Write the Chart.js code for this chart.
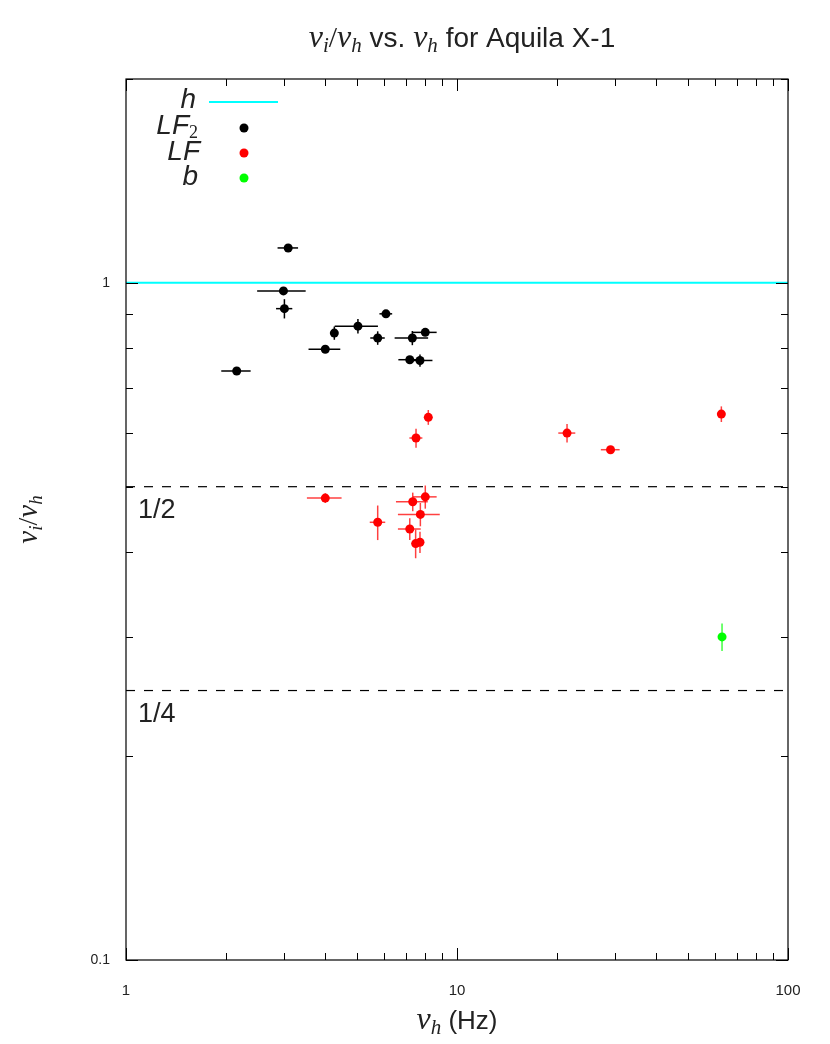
<html>
<head>
  <meta charset="utf-8">
  <script type="text/javascript" src="https://cdn.jsdelivr.net/npm/chart.js@4.4.0/dist/chart.umd.min.js"></script>
  <style>
    body { margin: 0; background: #fff; }
    #wrap { width: 830px; height: 1044px; position: relative; }
  </style>
</head>
<body>
  <div id="wrap"><canvas id="ctx"></canvas></div>

  <script type="text/javascript">

    // LF2 (black) points
    lf2Nu     = [3.09, 2.99, 3.01, 2.16, 4.00, 4.26, 5.02, 6.10, 5.76, 7.33, 8.02, 7.20, 7.73];
    lf2Ratio  = [1.126, 0.973, 0.916, 0.741, 0.798, 0.843, 0.863, 0.900, 0.829, 0.829, 0.845, 0.770, 0.768];
    lf2NuErr  = [0.22, 0.50, 0.17, 0.22, 0.44, 0.00, 0.75, 0.27, 0.29, 0.85, 0.66, 0.55, 0.70];
    lf2RatErr = [0.000, 0.000, 0.030, 0.000, 0.000, 0.019, 0.021, 0.000, 0.019, 0.020, 0.000, 0.000, 0.016];

    // LF (red) points
    lfNu      = [8.19, 7.52, 4.00, 5.76, 7.35, 8.02, 7.75, 7.20, 7.50, 7.73, 21.5, 29.1, 62.9];
    lfRatio   = [0.633, 0.590, 0.481, 0.443, 0.475, 0.483, 0.455, 0.433, 0.412, 0.414, 0.600, 0.567, 0.640];
    lfNuErr   = [0.00, 0.34, 0.48, 0.31, 0.81, 0.66, 1.12, 0.57, 0.00, 0.00, 1.27, 1.90, 0.00];
    lfRatErr  = [0.016, 0.019, 0.008, 0.026, 0.015, 0.019, 0.018, 0.016, 0.020, 0.015, 0.019, 0.000, 0.017];

    // b (green) point
    bNu       = [63.2];
    bRatio    = [0.300];
    bNuErr    = [0.0];
    bRatErr   = [0.014];

    // reference lines
    refRatios = [1, 0.5, 0.25];
    refLabels = ["", "1/2", "1/4"];
    xRange    = [1, 100];
    yRange    = [0.1, 2];

    function pts(xs, ys) {
      return xs.map((x, i) => ({x: x, y: ys[i]}));
    }
    function hline(v) {
      return [{x: xRange[0], y: v}, {x: xRange[1], y: v}];
    }

    MI  = 'italic 29px "Liberation Serif"';
    MIs = 'italic 19px "Liberation Serif"';
    RM  = '28px "Liberation Serif"';
    SF  = '25px "Liberation Sans"';

    function rich(c, parts, x, y, align) {
      var w = 0;
      parts.forEach(p => { c.font = p.f; p.w = c.measureText(p.t).width + (p.gap || 0); w += p.w; });
      var cx = align == 'center' ? x - w / 2 : (align == 'right' ? x - w : x);
      c.textAlign = 'left';
      c.textBaseline = 'alphabetic';
      parts.forEach(p => { c.font = p.f; c.fillText(p.t, cx, y + (p.dy || 0)); cx += p.w; });
    }

    function isDecade(v) {
      var l = Math.log10(v);
      return Math.abs(l - Math.round(l)) < 1e-6;
    }
    // only the 1..9 x 10^n positions get a tick
    function isWholeStep(v) {
      var m = v / Math.pow(10, Math.floor(Math.log10(v) + 1e-9));
      return Math.abs(m - Math.round(m)) < 1e-6;
    }

    // error bars, drawn under the points
    errPlugin = {
      id: 'errbars',
      beforeDatasetsDraw: function(chart) {
        var c = chart.ctx, xs = chart.scales.x, ys = chart.scales.y;
        c.save();
        c.lineWidth = 1.5;
        chart.data.datasets.forEach(ds => {
          if (!ds.xErr) return;
          c.strokeStyle = ds.errColor;
          ds.data.forEach((p, i) => {
            var px = xs.getPixelForValue(p.x), py = ys.getPixelForValue(p.y);
            if (ds.xErr[i] > 0) {
              c.beginPath();
              c.moveTo(xs.getPixelForValue(p.x - ds.xErr[i]), py);
              c.lineTo(xs.getPixelForValue(p.x + ds.xErr[i]), py);
              c.stroke();
            }
            if (ds.yErr[i] > 0) {
              c.beginPath();
              c.moveTo(px, ys.getPixelForValue(p.y - ds.yErr[i]));
              c.lineTo(px, ys.getPixelForValue(p.y + ds.yErr[i]));
              c.stroke();
            }
          });
        });
        c.restore();
      }
    };

    // frame, inward ticks, titles, legend, 1/2 1/4 labels
    deco = {
      id: 'deco',
      afterDraw: function(chart) {
        var c = chart.ctx, a = chart.chartArea, xs = chart.scales.x, ys = chart.scales.y;
        c.save();
        c.strokeStyle = '#000';
        c.lineWidth = 1.2;
        c.strokeRect(a.left, a.top, a.right - a.left, a.bottom - a.top);

        c.lineWidth = 1;
        c.beginPath();
        xs.ticks.forEach(t => {
          if (!isWholeStep(t.value)) return;
          var px = Math.round(xs.getPixelForValue(t.value)) + 0.5;
          var len = isDecade(t.value) ? 12 : 7;
          c.moveTo(px, a.bottom); c.lineTo(px, a.bottom - len);
          c.moveTo(px, a.top); c.lineTo(px, a.top + len);
        });
        ys.ticks.forEach(t => {
          if (!isWholeStep(t.value)) return;
          var py = Math.round(ys.getPixelForValue(t.value)) + 0.5;
          var len = isDecade(t.value) ? 12 : 7;
          c.moveTo(a.left, py); c.lineTo(a.left + len, py);
          c.moveTo(a.right, py); c.lineTo(a.right - len, py);
        });
        c.stroke();

        c.fillStyle = '#222';
        // title
        var TF = '28px "Liberation Sans"', TM = 'italic 32px "Liberation Serif"', TS = 'italic 21px "Liberation Serif"';
        rich(c, [
          {t: 'ν', f: TM}, {t: 'i', f: TS, dy: 5}, {t: '/', f: '30px "Liberation Serif"'}, {t: 'ν', f: TM}, {t: 'h', f: TS, dy: 5},
          {t: ' vs. ', f: TF}, {t: 'ν', f: TM}, {t: 'h', f: TS, dy: 5}, {t: ' for Aquila X-1', f: TF}
        ], (a.left + a.right) / 2 + 5, 47, 'center');

        // x label
        rich(c, [
          {t: 'ν', f: 'italic 32px "Liberation Serif"'}, {t: 'h', f: 'italic 21px "Liberation Serif"', dy: 5},
          {t: ' (Hz)', f: '26px "Liberation Sans"'}
        ], (a.left + a.right) / 2, 1029, 'center');

        // y label
        c.save();
        c.translate(37, (a.top + a.bottom) / 2);
        c.rotate(-Math.PI / 2);
        rich(c, [
          {t: 'ν', f: MI}, {t: 'i', f: MIs, dy: 5}, {t: '/', f: RM}, {t: 'ν', f: MI}, {t: 'h', f: MIs, dy: 5}
        ], 0, 0, 'center');
        c.restore();

        // 1/2 and 1/4
        c.font = '27px "Liberation Sans"';
        c.textAlign = 'left';
        c.textBaseline = 'alphabetic';
        refRatios.forEach((r, i) => {
          if (!refLabels[i]) return;
          c.fillText(refLabels[i], a.left + 12, ys.getPixelForValue(r) + 31);
        });

        // legend
        var lx = a.left + 72, sx = a.left + 118;
        var rows = [a.top + 23, a.top + 49, a.top + 74, a.top + 99];
        var LF = 'italic 28px "Liberation Sans"';
        rich(c, [{t: 'h', f: LF}], lx - 2, rows[0] + 6, 'right');
        rich(c, [{t: 'LF', f: LF}, {t: '2', f: '18px "Liberation Serif"', dy: 4}], lx, rows[1] + 6, 'right');
        rich(c, [{t: 'LF', f: LF}], lx + 2, rows[2] + 7, 'right');
        rich(c, [{t: 'b', f: LF}], lx, rows[3] + 7, 'right');

        c.strokeStyle = '#00ffff';
        c.lineWidth = 2;
        c.beginPath();
        c.moveTo(a.left + 83, rows[0]); c.lineTo(a.left + 152, rows[0]);
        c.stroke();
        ['#000000', '#ff0000', '#00ff00'].forEach((col, i) => {
          c.fillStyle = col;
          c.beginPath();
          c.arc(sx, rows[i + 1], 4.5, 0, Math.PI * 2);
          c.fill();
        });
        c.restore();
      }
    };

    chart = new Chart(document.getElementById('ctx'), {
      type: 'scatter',
      data: {
        datasets: [{
          type: 'line',
          data: hline(refRatios[0]),
          borderColor: '#00ffff',
          borderWidth: 2,
          pointRadius: 0,
          order: 5
        }, {
          type: 'line',
          data: hline(refRatios[1]),
          borderColor: '#000',
          borderWidth: 1.2,
          borderDash: [9, 9],
          pointRadius: 0,
          order: 5
        }, {
          type: 'line',
          data: hline(refRatios[2]),
          borderColor: '#000',
          borderWidth: 1.2,
          borderDash: [9, 9],
          pointRadius: 0,
          order: 5
        }, {
          data: pts(lf2Nu, lf2Ratio),
          xErr: lf2NuErr, yErr: lf2RatErr,
          errColor: '#000',
          backgroundColor: '#000', borderColor: '#000',
          pointRadius: 4.5, borderWidth: 0,
          order: 1
        }, {
          data: pts(lfNu, lfRatio),
          xErr: lfNuErr, yErr: lfRatErr,
          errColor: 'rgba(255,0,0,0.75)',
          backgroundColor: '#ff0000', borderColor: '#ff0000',
          pointRadius: 4.5, borderWidth: 0,
          order: 1
        }, {
          data: pts(bNu, bRatio),
          xErr: bNuErr, yErr: bRatErr,
          errColor: 'rgba(0,255,0,0.75)',
          backgroundColor: '#00ff00', borderColor: '#00ff00',
          pointRadius: 4.5, borderWidth: 0,
          order: 1
        }]
      },
      options: {
        responsive: true,
        maintainAspectRatio: false,
        animation: false,
        layout: { padding: { left: 0, right: 42, top: 79, bottom: 0 } },
        plugins: {
          legend: { display: false },
          tooltip: { enabled: false },
          title: { display: false }
        },
        scales: {
          x: {
            type: 'logarithmic',
            min: xRange[0], max: xRange[1],
            grid: { display: false, drawTicks: false },
            border: { display: false },
            ticks: {
              autoSkip: false,
              maxRotation: 0,
              padding: 22,
              color: '#222',
              font: { family: 'Liberation Sans', size: 15 },
              callback: v => isDecade(v) ? String(Number(v.toPrecision(3))) : ''
            },
            afterFit: s => { s.height = 84; }
          },
          y: {
            type: 'logarithmic',
            min: yRange[0], max: yRange[1],
            grid: { display: false, drawTicks: false },
            border: { display: false },
            ticks: {
              autoSkip: false,
              padding: 16,
              color: '#222',
              font: { family: 'Liberation Sans', size: 14 },
              callback: v => isDecade(v) ? String(Number(v.toPrecision(3))) : ''
            },
            afterFit: s => { s.width = 126; }
          }
        }
      },
      plugins: [errPlugin, deco]
    });

  </script>
</body>
</html>
